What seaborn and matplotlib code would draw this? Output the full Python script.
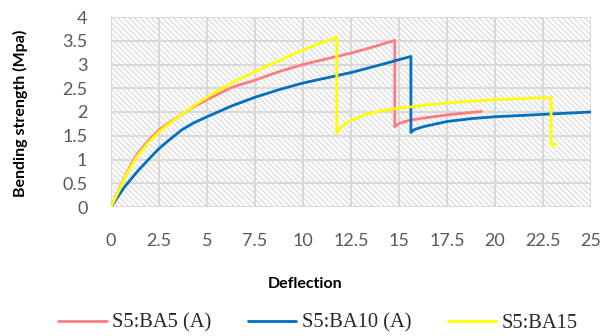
import matplotlib
matplotlib.use("Agg")
import matplotlib.pyplot as plt
import seaborn as sns
import pandas as pd
from matplotlib.patches import Rectangle

# ---- data ----
ba5_x = [0, 0.35, 0.7, 1.05, 1.4, 2.0, 2.5, 3.0, 3.67, 4.3, 5, 6.3, 7.5, 8.75, 10, 11.25, 12.5, 13.75, 14.78,
         14.78, 15.0, 15.5, 16.25, 17.5, 18.5, 19.3]
ba5_y = [0, 0.31, 0.62, 0.90, 1.13, 1.42, 1.62, 1.77, 1.94, 2.11, 2.26, 2.52, 2.67, 2.85, 3.0, 3.12, 3.24, 3.38, 3.51,
         1.69, 1.76, 1.82, 1.87, 1.94, 1.98, 2.01]

ba10_x = [0, 0.7, 1.4, 2.0, 2.5, 3.0, 3.67, 4.3, 5, 6.3, 7.5, 8.75, 10, 11.25, 12.5, 14.0, 15.62,
          15.62, 15.8, 16.25, 17.5, 18.75, 20, 22.5, 25]
ba10_y = [0, 0.42, 0.76, 1.02, 1.23, 1.40, 1.62, 1.77, 1.90, 2.13, 2.31, 2.47, 2.61, 2.72, 2.83, 2.99, 3.17,
          1.57, 1.63, 1.69, 1.80, 1.86, 1.90, 1.95, 2.0]

ba15_x = [0, 0.35, 0.7, 1.05, 1.4, 2.0, 2.5, 3.0, 3.67, 4.3, 5, 6.3, 7.5, 8.75, 10, 11.0, 11.76,
          11.76, 11.9, 12.2, 12.5, 13.2, 14.0, 15.0, 16.25, 17.5, 20, 22.5, 22.92, 22.92, 23.18]
ba15_y = [0, 0.29, 0.60, 0.86, 1.09, 1.38, 1.58, 1.75, 1.94, 2.13, 2.31, 2.62, 2.85, 3.08, 3.31, 3.46, 3.57,
          1.55, 1.64, 1.75, 1.82, 1.94, 2.02, 2.08, 2.14, 2.19, 2.26, 2.30, 2.30, 1.30, 1.32]

labels = ["S5:BA5 (A)", "S5:BA10 (A)", "S5:BA15"]
colors = ["#FF7C80", "#0070C0", "#FFFF00"]
x_ticks = [0, 2.5, 5, 7.5, 10, 12.5, 15, 17.5, 20, 22.5, 25]
x_tick_labels = ["0", "2.5", "5", "7.5", "10", "12.5", "15", "17.5", "20", "22.5", "25"]
y_ticks = [0, 0.5, 1, 1.5, 2, 2.5, 3, 3.5, 4]
y_tick_labels = ["0", "0.5", "1", "1.5", "2", "2.5", "3", "3.5", "4"]

sns.set_style("white")
plt.rcParams["font.family"] = ["Lato", "DejaVu Sans"]
plt.rcParams["hatch.color"] = "#E3E3E3"
plt.rcParams["hatch.linewidth"] = 1.2

fig = plt.figure(figsize=(6.03, 3.36), dpi=100)
ax = fig.add_axes([111 / 603, 1 - 207 / 336, 480 / 603, 190 / 336])

# hatched background
ax.add_patch(Rectangle((0, 0), 1, 1, transform=ax.transAxes, facecolor="white",
                       edgecolor="#E3E3E3", hatch="\\\\\\\\\\\\", linewidth=0, zorder=0))

for xs, ys, lab, col in zip([ba5_x, ba10_x, ba15_x], [ba5_y, ba10_y, ba15_y], labels, colors):
    df = pd.DataFrame({"x": xs, "y": ys})
    sns.lineplot(data=df, x="x", y="y", sort=False, estimator=None, color=col,
                 linewidth=2.0, label=lab, ax=ax, zorder=3,
                 solid_joinstyle="round", solid_capstyle="round")

ax.set_xlim(0, 25)
ax.set_ylim(0, 4)
ax.set_xticks(x_ticks)
ax.set_xticklabels(x_tick_labels)
ax.set_yticks(y_ticks)
ax.set_yticklabels(y_tick_labels)
ax.grid(True, color="#D9D9D9", linewidth=1.4, zorder=1)
ax.set_axisbelow(True)
for s in ax.spines.values():
    s.set_visible(False)
ax.tick_params(axis="x", length=0, labelsize=13, labelcolor="#595959", pad=19)
ax.tick_params(axis="y", length=0, labelsize=13, labelcolor="#595959", pad=17)
ax.set_xlabel("")
ax.set_ylabel("")

fig.text(20 / 603, 1 - 113 / 336, "Bending strength (Mpa)", rotation=90, ha="center", va="center",
         fontsize=11.5, fontweight="bold", color="black")
fig.text(305 / 603, 1 - 284 / 336, "Deflection", ha="center", va="center",
         fontsize=11.5, fontweight="bold", color="black")

handles, labs = ax.get_legend_handles_labels()
ax.legend_.remove()
fig.legend(handles, labs, loc="center", bbox_to_anchor=(318 / 603, 1 - 323 / 336), ncol=3,
           frameon=False, prop={"family": "Liberation Serif", "size": 14.8},
           handlelength=2.35, handletextpad=0.25, columnspacing=1.8)

fig.savefig("out.png", dpi=100)
